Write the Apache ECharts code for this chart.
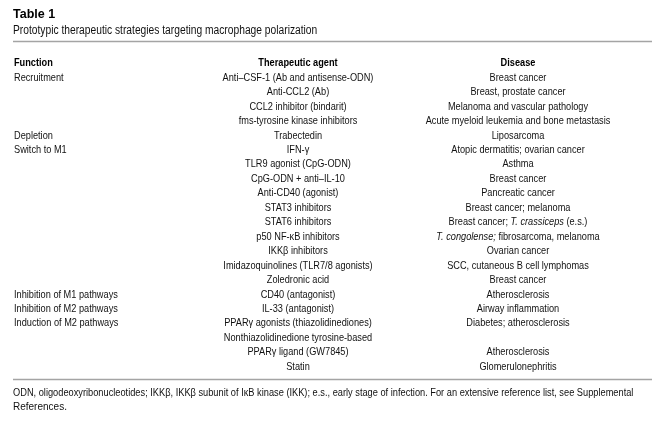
<!DOCTYPE html>
<html><head><meta charset="utf-8">
<script src="https://cdn.jsdelivr.net/npm/echarts@6/dist/echarts.min.js"></script>
<style>html,body{margin:0;padding:0;background:#fff}#c{width:667px;height:425px}</style>
</head><body><div id="c"></div>
<script>
var tableTitle = 'Table 1';
var tableSubtitle = 'Prototypic therapeutic strategies targeting macrophage polarization';
var headers = ['Function', 'Therapeutic agent', 'Disease'];
var functions = ['Recruitment','','','','Depletion','Switch to M1','','','','','','','','','','Inhibition of M1 pathways','Inhibition of M2 pathways','Induction of M2 pathways','','',''];
var agents = ['Anti\u2013CSF-1 (Ab and antisense-ODN)','Anti-CCL2 (Ab)','CCL2 inhibitor (bindarit)','fms-tyrosine kinase inhibitors','Trabectedin','IFN-\u03b3','TLR9 agonist (CpG-ODN)','CpG-ODN + anti\u2013IL-10','Anti-CD40 (agonist)','STAT3 inhibitors','STAT6 inhibitors','p50 NF-\u03baB inhibitors','IKK\u03b2 inhibitors','Imidazoquinolines (TLR7/8 agonists)','Zoledronic acid','CD40 (antagonist)','IL-33 (antagonist)','PPAR\u03b3 agonists (thiazolidinediones)','Nonthiazolidinedione tyrosine-based','PPAR\u03b3 ligand (GW7845)','Statin'];
var diseases = ['Breast cancer','Breast, prostate cancer','Melanoma and vascular pathology','Acute myeloid leukemia and bone metastasis','Liposarcoma','Atopic dermatitis; ovarian cancer','Asthma','Breast cancer','Pancreatic cancer','Breast cancer; melanoma','Breast cancer; {i|T. crassiceps} (e.s.)','{i|T. congolense;} fibrosarcoma, melanoma','Ovarian cancer','SCC, cutaneous B cell lymphomas','Breast cancer','Atherosclerosis','Airway inflammation','Diabetes; atherosclerosis','','Atherosclerosis','Glomerulonephritis'];
var footnoteLines = ['ODN, oligodeoxyribonucleotides; IKK\u03b2, IKK\u03b2 subunit of I\u03baB kinase (IKK); e.s., early stage of infection. For an extensive reference list, see Supplemental','References.'];

var FONT = '"Liberation Sans", Arial, Helvetica, sans-serif';
var COND = 0.78;
var TXT = '#111';
var colX = [14, 298, 518];
var rowTop = 77.5, rowStep = 14.45;
var nRows = agents.length;

function mk(col, arr, align) {
  var d = [];
  arr.forEach(function (t, i) { if (t) d.push({ value: [colX[col], i], name: t }); });
  return {
    type: 'custom', data: d, silent: true,
    renderItem: function (params, api) {
      var p = api.coord([api.value(0), api.value(1)]);
      return {
        type: 'text', x: p[0], y: p[1], scaleX: COND, scaleY: 1,
        style: {
          x: 0, y: 0, text: d[params.dataIndex].name, align: align, verticalAlign: 'middle',
          font: '11.8px ' + FONT, fill: TXT,
          rich: { i: { fontFamily: FONT, fontSize: 11.8, fontStyle: 'italic', fill: TXT, color: TXT } }
        }
      };
    }
  };
}

var chart = echarts.init(document.getElementById('c'), null, { renderer: 'canvas' });
var gridTop = rowTop - rowStep / 2;
chart.setOption({
  animation: false,
  grid: { left: 0, right: 0, top: gridTop, height: rowStep * nRows },
  xAxis: { type: 'value', min: 0, max: 667, show: false },
  yAxis: { type: 'value', min: -0.5, max: nRows - 0.5, inverse: true, show: false },
  series: [mk(0, functions, 'left'), mk(1, agents, 'center'), mk(2, diseases, 'center')],
  graphic: [
    { type: 'text', x: 13, y: 14.5, style: { text: tableTitle, font: 'bold 12.5px ' + FONT, fill: '#000', verticalAlign: 'middle' } },
    { type: 'text', x: 13, y: 30.5, scaleX: 0.82, style: { text: tableSubtitle, font: '12.5px ' + FONT, fill: TXT, verticalAlign: 'middle' } },
    { type: 'line', shape: { x1: 13, y1: 41.5, x2: 652, y2: 41.5 }, style: { stroke: '#a4a4a4', lineWidth: 1.5 } },
    { type: 'text', x: colX[0], y: 62.5, scaleX: 0.78, style: { text: headers[0], font: 'bold 11.8px ' + FONT, fill: '#000', verticalAlign: 'middle' } },
    { type: 'text', x: colX[1], y: 62.5, scaleX: 0.78, style: { text: headers[1], font: 'bold 11.8px ' + FONT, fill: '#000', align: 'center', verticalAlign: 'middle' } },
    { type: 'text', x: colX[2], y: 62.5, scaleX: 0.78, style: { text: headers[2], font: 'bold 11.8px ' + FONT, fill: '#000', align: 'center', verticalAlign: 'middle' } },
    { type: 'line', shape: { x1: 13, y1: 379.5, x2: 652, y2: 379.5 }, style: { stroke: '#a4a4a4', lineWidth: 1.5 } },
    { type: 'text', x: 13, y: 393, scaleX: 0.925, style: { text: footnoteLines[0], font: '10px ' + FONT, fill: TXT, verticalAlign: 'middle' } },
    { type: 'text', x: 13, y: 407, style: { text: footnoteLines[1], font: '10px ' + FONT, fill: TXT, verticalAlign: 'middle' } }
  ]
});
</script></body></html>
